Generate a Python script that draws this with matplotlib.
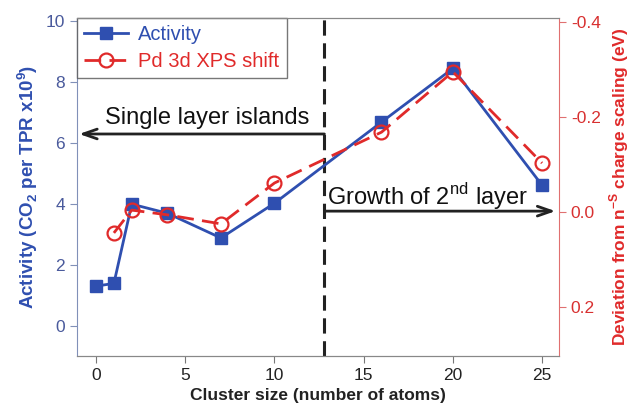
import matplotlib
matplotlib.use("Agg")
import matplotlib.pyplot as plt

plt.rcParams['font.family'] = ['Liberation Sans', 'DejaVu Sans']

act_x = [0, 1, 2, 4, 7, 10, 16, 20, 25]
act_y = [1.31, 1.40, 4.0, 3.7, 2.89, 4.03, 6.69, 8.45, 4.62]

xps_x = [1, 2, 4, 7, 10, 16, 20, 25]
xps_y = [0.044, -0.004, 0.006, 0.025, -0.061, -0.168, -0.295, -0.103]

boundary_x = 12.8
xticks = [0, 5, 10, 15, 20, 25]
left_ticks = [0, 2, 4, 6, 8, 10]
right_ticks = [-0.4, -0.2, 0.0, 0.2]

blue = '#2f4fb0'
red = '#e02a2a'

fig = plt.figure(figsize=(6.33, 4.12), dpi=100)
ax = fig.add_axes([0.1216, 0.136, 0.7615, 0.820])
ax2 = ax.twinx()

ax.set_xlim(-1.07, 25.95)
ax.set_ylim(-0.98, 10.1)
ax2.set_ylim(0.303, -0.408)

l1, = ax.plot(act_x, act_y, color=blue, lw=2, marker='s', ms=9,
              mfc=blue, mec=blue, label='Activity', zorder=3)
l2, = ax2.plot(xps_x, xps_y, color=red, lw=2, ls=(0, (6, 3)), marker='o', ms=10,
               mfc='none', mec=red, mew=1.6, label='Pd 3d XPS shift', zorder=3)

ax.axvline(boundary_x, color='#222222', lw=2.2, ls=(0, (5, 2.5)), zorder=2)

ax.annotate('', xy=(-0.95, 6.3), xytext=(boundary_x, 6.3),
            arrowprops=dict(arrowstyle='->,head_length=1.0,head_width=0.35',
                            color='#222222', lw=2, shrinkA=0, shrinkB=0))
ax.text(0.5, 6.62, 'Single layer islands', fontsize=17, va='baseline',
        ha='left', color='#111111')

ax.annotate('', xy=(25.75, 3.77), xytext=(boundary_x, 3.77),
            arrowprops=dict(arrowstyle='->,head_length=1.0,head_width=0.35',
                            color='#222222', lw=2, shrinkA=0, shrinkB=0))
ax.text(12.95, 3.97, 'Growth of 2$^{\\mathregular{nd}}$ layer', fontsize=17,
        va='baseline', ha='left', color='#111111')

ax.set_xticks(xticks)
ax.set_yticks(left_ticks)
ax2.set_yticks(right_ticks)
ax2.set_yticklabels(['-0.4', '-0.2', '0.0', '0.2'])

ax.tick_params(axis='x', direction='out', length=5, labelsize=12.5,
               colors='#777777', labelcolor='#222222')
ax.tick_params(axis='y', direction='out', length=5, labelsize=12.5,
               colors='#8090b8', labelcolor='#4a5a9c')
ax2.tick_params(axis='y', direction='out', length=5, labelsize=12.5,
                colors='#e07070', labelcolor='#d83030')

for s in ['top', 'bottom']:
    ax.spines[s].set_color('#888888')
    ax2.spines[s].set_color('#888888')
ax.spines['left'].set_color('#8090b8')
ax2.spines['left'].set_visible(False)
ax2.spines['right'].set_color('#e07070')
ax.spines['right'].set_visible(False)

ax.set_xlabel('Cluster size (number of atoms)', fontsize=12.5,
              fontweight='bold', color='#222222', labelpad=4)
ax.set_ylabel('Activity (CO$_\\mathregular{2}$ per TPR x10$^\\mathregular{9}$)',
              fontsize=13.5, fontweight='bold', color=blue, labelpad=4)
ax2.set_ylabel('Deviation from n$^{\\mathregular{-S}}$ charge scaling (eV)',
               fontsize=12.5, fontweight='bold', color=red, labelpad=5)

leg = ax.legend(handles=[l1, l2], loc='upper left', fontsize=14.5,
                frameon=True, fancybox=False, edgecolor='#555555',
                borderaxespad=0, handlelength=2.2, borderpad=0.35,
                labelspacing=0.4, handletextpad=0.5)
leg.get_frame().set_linewidth(1)
leg.get_texts()[0].set_color(blue)
leg.get_texts()[1].set_color(red)
leg.set_zorder(5)

fig.savefig('out.png', dpi=100)
